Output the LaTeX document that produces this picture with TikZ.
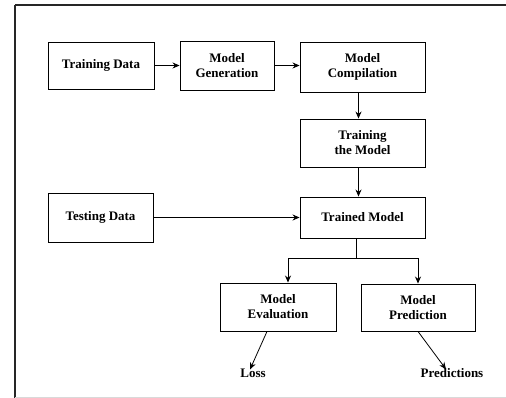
\documentclass[tikz,border=0pt]{standalone}
\usepackage{fontspec}
\setmainfont{Liberation Serif}
\usetikzlibrary{arrows.meta}
\begin{document}
\begin{tikzpicture}[x=1pt,y=-1pt,
  box/.style={draw=black,line width=0.9pt,align=center,inner sep=0pt,
    font=\fontsize{13}{15}\selectfont\bfseries},
  lbl/.style={inner sep=2pt,font=\fontsize{13}{15}\selectfont\bfseries},
  arr/.style={draw=black,line width=0.8pt,-{Stealth[length=7pt,width=6pt]}},
  frameline/.style={draw=black!85,line width=1.6pt}]
\useasboundingbox (0,0) rectangle (506,398);
% page frame
\draw[frameline,line width=2pt] (15,5) -- (15,398);
\draw[frameline] (15,5) -- (506,5);
\draw[black!15,line width=1pt] (15,397) -- (506,397);
% process boxes
\node[box,minimum width=106pt,minimum height=47pt] (td) at (101,65.5) {Training Data};
\node[box,minimum width=94pt,minimum height=49pt] (mg) at (227,65.5) {Model\\Generation};
\node[box,minimum width=125pt,minimum height=50pt] (mc) at (362.5,67) {Model\\Compilation};
\node[box,minimum width=125pt,minimum height=48pt] (tm) at (362.5,143) {Training\\the Model};
\node[box,minimum width=125pt,minimum height=41pt] (tr) at (362.5,217.5) {Trained Model};
\node[box,minimum width=105pt,minimum height=49pt] (ts) at (100.5,217.5) {Testing Data};
\node[box,minimum width=116pt,minimum height=48pt] (me) at (278,307) {Model\\Evaluation};
\node[box,minimum width=114pt,minimum height=47pt] (mp) at (418,307.5) {Model\\Prediction};
% outputs
\node[lbl] (loss) at (253,373) {Loss};
\node[lbl] (pred) at (452,373) {Predictions};
% connectors
\draw[arr] (td.east) -- (td.east -| mg.west);
\draw[arr] (mg.east) -- (mg.east -| mc.west);
\draw[arr] ([xshift=-4pt]mc.south) -- ([xshift=-4pt]tm.north);
\draw[arr] ([xshift=-4pt]tm.south) -- ([xshift=-4pt]tr.north);
\draw[arr] (ts.east) -- (tr.west);
\coordinate (split) at ([xshift=-6pt,yshift=-20pt]tr.south);
\draw[line width=0.8pt] ([xshift=-6pt]tr.south) -- (split);
\draw[arr] (split) -| ([xshift=10pt]me.north);
\draw[arr] (split) -| (mp.north);
\draw[arr] ([xshift=-11pt]me.south) -- ([xshift=-3pt,yshift=-3pt]loss.north);
\draw[arr] (mp.south) -- ([xshift=-6pt,yshift=-3pt]pred.north);
\end{tikzpicture}
\end{document}
